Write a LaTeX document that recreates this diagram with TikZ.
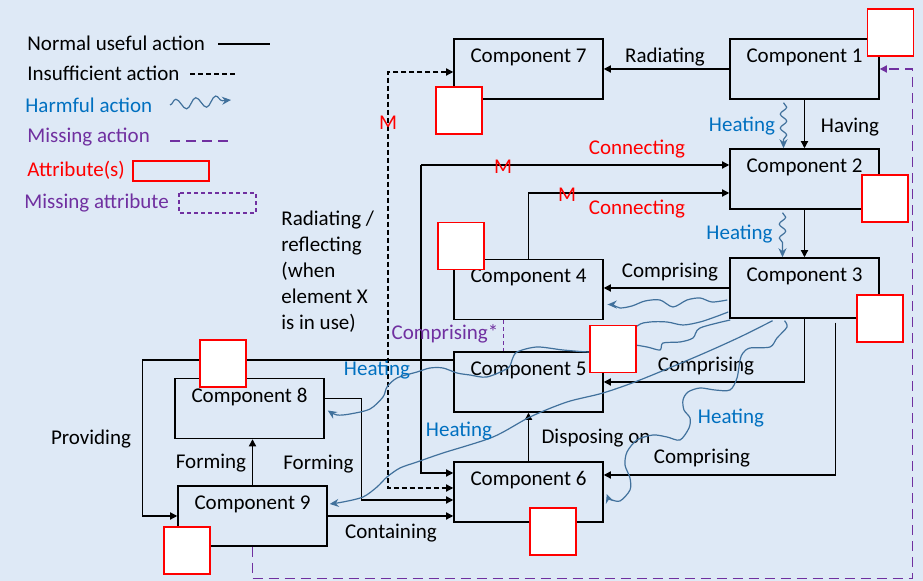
\documentclass[tikz,border=0pt]{standalone}
\usepackage{fontspec}
\setmainfont{Carlito}
\usetikzlibrary{arrows.meta,calc,decorations.pathmorphing}
\definecolor{bgblue}{RGB}{222,233,246}
\definecolor{harmblue}{RGB}{65,113,156}
\definecolor{heatblue}{RGB}{0,112,192}
\definecolor{misspurple}{RGB}{112,48,160}

\begin{document}
\begin{tikzpicture}[x=0.5pt,y=-0.5pt,
    font=\fontsize{10.5}{13}\selectfont,
    comp/.style={draw, line width=0.75pt, fill=bgblue,
        minimum width=74.5pt, minimum height=30pt, inner sep=0pt,
        label={[anchor=north, inner sep=5pt]north:#1}},
    attr/.style={draw=red, fill=white, line width=0.75pt,
        minimum width=23pt, minimum height=23.5pt, inner sep=0pt},
    lbl/.style={inner sep=1pt},
    heat/.style={lbl, text=heatblue},
    conn/.style={lbl, text=red},
    arr/.style={line width=0.65pt, -{Triangle[length=3.6pt,width=3.6pt]}},
    insuf/.style={arr, dash pattern=on 2.5pt off 1.5pt},
    harm/.style={draw=harmblue, line width=0.6pt, -{Stealth[length=4.5pt,width=4pt]}},
    wave/.style={harm, decorate,
        decoration={snake, amplitude=1.6pt, segment length=7pt, post length=4pt}},
    bigwave/.style={harm, decorate,
        decoration={snake, amplitude=2.6pt, segment length=10pt, post length=4pt}},
    miss/.style={draw=misspurple, line width=0.65pt, dash pattern=on 5pt off 3pt}
]

\fill[bgblue] (0,0) rectangle (923,581);
\useasboundingbox (0,0) rectangle (923,581);

\node[lbl, anchor=west] (lgNormal) at (25,43) {Normal useful action};
\draw[line width=0.65pt] (218,44) -- (270,44);
\node[lbl, anchor=west] (lgInsuf) at (25,73) {Insufficient action};
\draw[line width=0.65pt, dash pattern=on 2.5pt off 1.5pt] (190,74) -- (236,74);
\node[lbl, anchor=west, text=heatblue] (lgHarm) at (23,105) {Harmful action};
\draw[bigwave] (170,105) -- (231,100);
\node[lbl, anchor=west, text=misspurple] (lgMiss) at (25,137) {Missing action};
\draw[miss] (170,141) -- (232,141);
\node[lbl, anchor=west, text=red] (lgAttr) at (25,170) {Attribute(s)};
\draw[red, line width=0.75pt] (133,161) rectangle (209,181);
\node[lbl, anchor=west, text=misspurple] (lgMissAttr) at (22,203) {Missing attribute};
\draw[misspurple, line width=0.65pt, dash pattern=on 2pt off 1.5pt] (179,193) rectangle (256,213);

\node[comp={Component 1}] (C1) at (804.5,69) {};
\node[comp={Component 2}] (C2) at (804.5,179) {};
\node[comp={Component 3}] (C3) at (804.5,288) {};
\node[comp={Component 4}] (C4) at (528.5,289.5) {};
\node[comp={Component 5}] (C5) at (528.5,382) {};
\node[comp={Component 6}] (C6) at (528.5,492) {};
\node[comp={Component 7}] (C7) at (528.5,69) {};
\node[comp={Component 8}] (C8) at (249.5,408.5) {};
\node[comp={Component 9}] (C9) at (252.5,516) {};

\coordinate (cA) at (421,165);
\coordinate (mTop) at (388,72);
\coordinate (mBot) at (388,488);
\coordinate (a5c) at (613,349);

\draw[arr] (C1.west) -- (C7.east);
\node[lbl] (tRad) at (665,57) {Radiating};
\draw[arr] (C1.south) -- (C2.north);
\node[lbl] (tHave) at (850,127) {Having};
\draw[wave] ($(C1.south)+(-21,3)$) -- ($(C2.north)+(-21,0)$);
\node[heat] (tHeat1) at (742,126) {Heating};
\draw[arr] (C2.south) -- (C3.north);
\draw[wave] ($(C2.south)+(-22,3)$) -- ($(C3.north)+(-22,0)$);
\node[heat] (tHeat2) at (739.5,234) {Heating};

\draw[arr] (cA) -- (C2.west |- cA);
\draw[arr] (cA) |- ($(C6.west)+(0,-19)$);
\node[conn] (tM1) at (503,167) {M};
\node[conn] (tCon1) at (637,149) {Connecting};
\draw[arr] (C4.north) |- ($(C2.west)+(0,14)$);
\node[conn] (tM2) at (567,195) {M};
\node[conn] (tCon2) at (637,209) {Connecting};

\draw[insuf, {Triangle[length=3.6pt,width=3.6pt]}-{Triangle[length=3.6pt,width=3.6pt]}]
    (C7.west |- mTop) -- (mTop) -- (mBot) -- (C6.west |- mBot);
\node[conn] (tM3) at (388,123) {M};
\node[lbl, anchor=north west, align=left, inner sep=0pt,
    font=\fontsize{10.5}{12.9}\selectfont] (tRefl) at (281,211)
    {Radiating / \\ reflecting \\ (when \\ element X \\ is in use)};

\draw[arr] (C3.west) -- (C3.west -| C4.east);
\node[lbl] (tComp1) at (670,272) {Comprising};
\draw[harm] plot[smooth, tension=0.5] coordinates {($(C3.west)+(-2,12)$) (712,302) (700,298)
    (687,300) (673,307) (660,300) (645,301) (632,306) (620,308) (613,305) ($(C4.east)+(4,15)$)};
\draw[arr] (C3.south) |- (C5.east);
\node[lbl] (tComp2) at (706,366) {Comprising};
\draw[arr] ($(C3.south)+(31,4)$) |- ($(C6.east)+(0,-17)$);
\node[lbl] (tComp3) at (702,458) {Comprising};

\draw[misspurple, line width=0.6pt, dash pattern=on 2pt off 1.5pt]
    ($(C4.south)+(-25,0)$) -- ($(C5.north)+(-25,0)$);
\node[lbl, text=misspurple] (tCompMiss) at (445,334) {Comprising*};

\draw[arr] (C6.north) -- (C5.south);
\node[lbl] (tDisp) at (596,438) {Disposing on};
\draw[arr] (C9.north) -- (C9.north |- C8.south);
\node[lbl] (tForm1) at (211,463) {Forming};
\draw[arr] ($(C8.east)+(0,-10)$) -| ($(C6.west)+(-92,8)$) -- ($(C6.west)+(0,8)$);
\node[lbl] (tForm2) at (318.5,464) {Forming};
\draw[arr] (C9.east) -- (C9.east -| C6.west);
\node[lbl] (tCont) at (391,533) {Containing};
\draw[arr] ($(C5.west)+(0,-22)$) -- ++(-311,0) |- (C9.west);
\node[lbl] (tProv) at (91,439) {Providing};

\draw[miss, -{Triangle[length=3.6pt,width=3.6pt]}]
    (C9.south) -- ++(0,32) -| ($(C1.east)+(33,0)$) -- (C1.east);

\draw[harmblue, line width=0.6pt] plot[smooth, tension=0.5] coordinates {($(C3.west)+(-1,24)$)
    (715,317) (700,322) (683,325) (667,322) (650,322) (637,326) (a5c)};
\draw[harm] plot[smooth, tension=0.5] coordinates {($(C3.west)+(1,32)$) (700,328) (693,338)
    (680,342) (663,343) (660,350) (647,347) (630,345) (605,350) (590,352) (563,350) (537,347)
    (517,352) (512,360) (508,368) (487,377) (470,375) (457,373) (443,368) (430,368) (417,372)
    (397,378) (387,387) (383,397) (370,409) (350,414) (337,415) ($(C8.east)+(3,2)$)};
\node[heat] (tHeat3) at (377,370) {Heating};
\draw[harm] plot[smooth, tension=0.5] coordinates {($(C3.south)+(-32,2)$) (740,337) (700,355)
    (640,380) (603,393) (567,402) (530,417) (493,437) (443,453) (417,462) (400,468) (387,477)
    (377,487) (363,497) (343,502) ($(C9.east)+(2,-12)$)};
\node[heat] (tHeat4) at (459,431) {Heating};
\draw[harm] plot[smooth, tension=0.5] coordinates {($(C3.south)+(-20,2)$) (787,327) (777,338)
    (770,347) (750,348) (743,353) (740,360) (737,378) (730,390) (715,390) (700,388) (688,392)
    (683,400) (684,410) (690,418) (689,428) (680,440) (667,437) (653,435) (637,440) (627,452)
    (625,465) (630,478) (630,490) (620,501) (610,499) ($(C6.east)+(3,2)$)};
\node[heat] (tHeat5) at (731,418) {Heating};

\node[attr] (a1) at (890.5,32.5) {};
\node[attr] (a2) at (885,198.5) {};
\node[attr] (a3) at (880,318.5) {};
\node[attr] (a4) at (461,246) {};
\node[attr] (a5) at (a5c) {};
\node[attr] (a6) at (553,531.5) {};
\node[attr] (a7) at (459,110.5) {};
\node[attr] (a8) at (223,363.5) {};
\node[attr] (a9) at (187,550.5) {};

\end{tikzpicture}
\end{document}
